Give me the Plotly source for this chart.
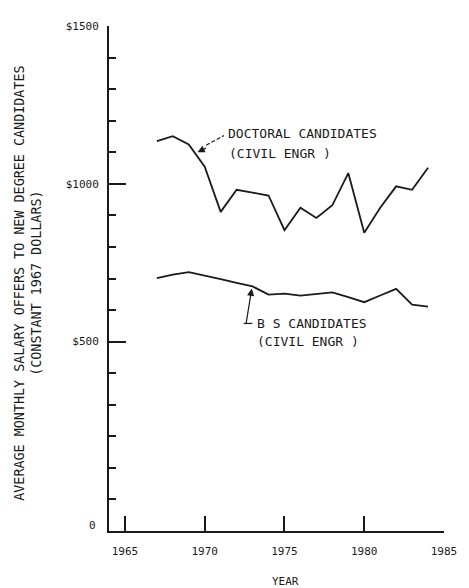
import plotly.graph_objects as go

years = list(range(1967, 1985))
doctoral = [1135, 1151, 1125, 1054, 911, 981, 972, 963, 853, 924, 892, 932, 1034, 845, 924, 992, 981, 1051]
bs = [701, 712, 720, 710, 698, 686, 675, 649, 652, 646, 651, 656, 641, 625, 646, 667, 617, 611]

x_ticks = [1965, 1970, 1975, 1980, 1985]
x_labels = ["1965", "1970", "1975", "1980", "1985"]
y_ticks = [500, 1000, 1500]
y_labels = ["$500", "$1000", "$1500"]

FONT = "DejaVu Sans Mono"
INK = "#1a1a1a"

fig = go.Figure()
fig.add_trace(go.Scatter(x=years, y=doctoral, mode="lines",
                         line=dict(color=INK, width=1.8), showlegend=False))
fig.add_trace(go.Scatter(x=years, y=bs, mode="lines",
                         line=dict(color=INK, width=1.8), showlegend=False))

# page body has an 8px default margin, so the figure is laid out 8px smaller
fig.update_layout(
    width=461, height=580,
    margin=dict(l=101, r=20, t=12, b=57),
    paper_bgcolor="white", plot_bgcolor="white",
    font=dict(family=FONT, color=INK, size=11),
    xaxis=dict(range=[1964.0, 1985], tickvals=x_ticks, ticktext=x_labels,
               ticks="inside", ticklen=15, tickwidth=1.5, tickcolor=INK,
               showline=True, linecolor=INK, linewidth=2, showgrid=False,
               zeroline=False, ticklabelstandoff=9,
               tickfont=dict(family=FONT, size=11, color=INK)),
    yaxis=dict(range=[-100, 1500], tickvals=y_ticks, ticktext=y_labels,
               ticks="inside", ticklen=17, tickwidth=1.5, tickcolor=INK,
               showline=True, linecolor=INK, linewidth=2, showgrid=False,
               zeroline=False, ticklabelstandoff=6,
               tickfont=dict(family=FONT, size=11, color=INK),
               minor=dict(dtick=100, tick0=0, ticks="inside", ticklen=7,
                          tickwidth=1.5, tickcolor=INK, showgrid=False)),
)

ann = []
# "0" label at the axis corner
ann.append(dict(text="0", xref="paper", yref="paper", x=0, y=0, xanchor="right",
                yanchor="middle", xshift=-11, yshift=6, showarrow=False,
                font=dict(family=FONT, size=11, color=INK)))
# axis titles
ann.append(dict(text="YEAR", xref="paper", yref="paper", x=0.527, y=0,
                yshift=-50, xanchor="center", yanchor="middle", showarrow=False,
                font=dict(family=FONT, size=11, color=INK)))
ann.append(dict(text="AVERAGE MONTHLY SALARY OFFERS TO NEW DEGREE CANDIDATES<br>(CONSTANT 1967 DOLLARS)",
                xref="paper", yref="paper", x=-0.2426, y=0.491, textangle=-90,
                xanchor="center", yanchor="middle", showarrow=False,
                font=dict(family=FONT, size=13.4, color=INK)))
# series labels
for txt, px, py in [("DOCTORAL CANDIDATES", 0.349, 0.787), ("(CIVIL ENGR )", 0.352, 0.748),
                    ("B S CANDIDATES", 0.435, 0.411), ("(CIVIL ENGR )", 0.435, 0.376)]:
    ann.append(dict(text=txt, xref="paper", yref="paper", x=px, y=py,
                    xanchor="left", yanchor="middle", showarrow=False,
                    font=dict(family=FONT, size=13, color=INK)))
# arrowheads
ann.append(dict(text="", x=1969.55, y=1100, xref="x", yref="y", ax=10, ay=-5,
                showarrow=True, arrowhead=2, arrowsize=1.2, arrowwidth=1.2, arrowcolor=INK))
ann.append(dict(text="", x=1972.95, y=668, xref="x", yref="y", ax=-6, ay=37,
                showarrow=True, arrowhead=2, arrowsize=1.2, arrowwidth=1.2, arrowcolor=INK))
fig.update_layout(annotations=ann)
# dashed leader from the doctoral label to its arrowhead
fig.add_shape(type="line", xref="paper", yref="paper", x0=0.290, y0=0.764, x1=0.343, y1=0.783,
              line=dict(color=INK, width=1.2, dash="4px,2px"))
# small hook at the B S label
fig.add_shape(type="line", xref="paper", yref="paper", x0=0.402, x1=0.428, y0=0.411, y1=0.411,
              line=dict(color=INK, width=1.2))

fig.write_html("out.html")
